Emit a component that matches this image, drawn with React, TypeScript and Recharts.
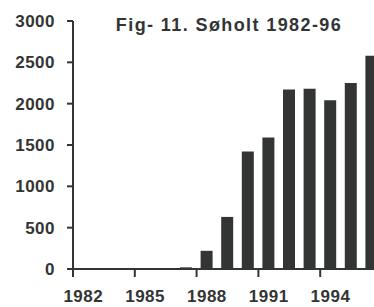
import React from 'react';
import { BarChart, Bar, XAxis, YAxis } from 'recharts';

const years = ['1982', '1983', '1984', '1985', '1986', '1987', '1988', '1989', '1990', '1991', '1992', '1993', '1994', '1995', '1996'];
const values = [0, 0, 0, 0, 5, 20, 220, 630, 1420, 1590, 2170, 2180, 2040, 2250, 2580];
const yTicks = [0, 500, 1000, 1500, 2000, 2500, 3000];
const labelEvery = 3;

const data = years.map((year, i) => ({ year, value: values[i] }));

const ink = '#333535';
const font = '"Liberation Sans", Arial, sans-serif';

// label sits under the bar, the small tick mark sits on the left band edge
const YearTick = (props: any) => {
  const { x, y, index, payload } = props;
  if (index % labelEvery !== 0) return null;
  const half = payload && payload.offset ? payload.offset : 0;
  return (
    <g>
      <line x1={x - half} x2={x - half} y1={y - 15} y2={y - 7} stroke={ink} strokeWidth={2} />
      <text x={x} y={y + 18} textAnchor="middle" fill={ink} fontSize={17} fontWeight="bold" fontFamily={font} letterSpacing={0.5}>
        {payload.value}
      </text>
    </g>
  );
};

const App: React.FC = () => {
  return (
    <div style={{ position: 'relative', width: 374, height: 307, overflow: 'hidden', background: '#fff' }}>
      <style>{`body{margin:0;overflow:hidden}`}</style>
      <div
        style={{
          position: 'absolute',
          left: 0,
          width: 458,
          top: 15,
          textAlign: 'center',
          fontFamily: font,
          fontWeight: 'bold',
          fontSize: 18,
          letterSpacing: 1.4,
          color: ink,
          zIndex: 2,
        }}
      >
        Fig- 11. Søholt 1982-96
      </div>
      <BarChart width={382} height={307} data={data} margin={{ top: 21, right: 0, bottom: 0, left: 0 }} barSize={12}>
        <XAxis
          dataKey="year"
          interval={0}
          height={38}
          tickLine={false}
          tickSize={6}
          tickMargin={9}
          axisLine={{ stroke: ink, strokeWidth: 2 }}
          tick={<YearTick />}
        />
        <YAxis
          width={73}
          domain={[0, 3000]}
          ticks={yTicks}
          interval={0}
          tickSize={6}
          tickMargin={12}
          axisLine={{ stroke: ink, strokeWidth: 2 }}
          tickLine={{ stroke: ink, strokeWidth: 2 }}
          tick={{ fill: ink, fontSize: 17, fontWeight: 'bold', fontFamily: font, letterSpacing: 0.5 }}
        />
        <Bar dataKey="value" fill={ink} isAnimationActive={false} />
      </BarChart>
    </div>
  );
};

export default App;
